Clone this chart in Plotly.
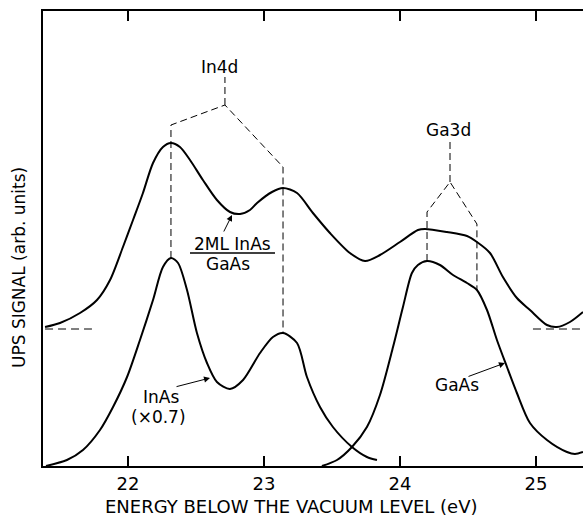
import plotly.graph_objects as go

# ---- data (energy in eV, signal in arbitrary units) ----
ml_x = [21.390, 21.500, 21.647, 21.772, 21.868, 21.963, 22.037, 22.110, 22.184, 22.257,
        22.316, 22.382, 22.456, 22.551, 22.654, 22.750, 22.824, 22.897, 22.949, 23.059,
        23.140, 23.243, 23.360, 23.485, 23.632, 23.743, 23.853, 24.000, 24.132, 24.184,
        24.346, 24.493, 24.566, 24.662, 24.757, 24.860, 24.956, 25.081, 25.154, 25.250, 25.346]
ml_y = [139, 143, 153, 166, 186, 219, 246, 273, 303, 319,
        323, 319, 306, 286, 266, 254, 252, 256, 263, 274,
        278, 273, 253, 233, 213, 205, 211, 224, 236, 237,
        234, 230, 224, 213, 189, 168, 156, 141, 139, 144, 154]

inas_x = [21.397, 21.551, 21.669, 21.794, 21.890, 21.993, 22.088, 22.184, 22.257, 22.316,
          22.368, 22.434, 22.507, 22.581, 22.654, 22.750, 22.846, 22.971, 23.066, 23.140,
          23.243, 23.316, 23.412, 23.507, 23.647, 23.757, 23.831]
inas_y = [0, 6, 16, 36, 59, 89, 126, 166, 199, 208,
          203, 176, 133, 103, 84, 77, 86, 113, 129, 133,
          123, 89, 59, 39, 19, 9, 6]

gaas_x = [23.426, 23.537, 23.647, 23.757, 23.853, 23.949, 24.022, 24.088, 24.132, 24.199,
          24.294, 24.390, 24.493, 24.566, 24.640, 24.713, 24.787, 24.860, 24.956, 25.081,
          25.228, 25.287, 25.346]
gaas_y = [0, 6, 19, 39, 71, 119, 159, 193, 201, 205,
          201, 191, 183, 176, 156, 126, 99, 73, 43, 26,
          14, 12, 14]

# baseline of the upper curve
base_level = 137
base_left_x = [21.39, 21.735]
base_right_x = [24.978, 25.346]

# peak-assignment guides (In 4d doublet, Ga 3d doublet)
in4d_x = [22.316, 22.316, 22.713, 23.140, 23.140, None, 22.713, 22.713]
in4d_y = [208, 341, 361, 299, 133, None, 361, 389]
ga3d_x = [24.199, 24.199, 24.368, 24.566, 24.566, None, 24.368, 24.368]
ga3d_y = [205, 254, 284, 242, 176, None, 284, 326]

x_ticks = [22, 23, 24, 25]
x_tick_text = ["22", "23", "24", "25"]

FONT = "DejaVu Sans"
fig = go.Figure()

solid = dict(color="black", width=2, shape="spline", smoothing=0.8)
guide = dict(color="black", width=1, dash="7px,4px")

fig.add_trace(go.Scatter(x=ml_x, y=ml_y, mode="lines", line=solid, name="2ML InAs/GaAs"))
fig.add_trace(go.Scatter(x=inas_x, y=inas_y, mode="lines", line=solid, name="InAs (x0.7)"))
fig.add_trace(go.Scatter(x=gaas_x, y=gaas_y, mode="lines", line=solid, name="GaAs"))
fig.add_trace(go.Scatter(x=base_left_x, y=[base_level] * 2, mode="lines",
                         line=dict(color="black", width=1, dash="8px,5px")))
fig.add_trace(go.Scatter(x=base_right_x, y=[base_level] * 2, mode="lines",
                         line=dict(color="black", width=1, dash="8px,5px")))
fig.add_trace(go.Scatter(x=in4d_x, y=in4d_y, mode="lines", line=guide, connectgaps=False))
fig.add_trace(go.Scatter(x=ga3d_x, y=ga3d_y, mode="lines", line=guide, connectgaps=False))

ann = []
def text(x, y, s, size=17):
    ann.append(dict(x=x, y=y, xref="x", yref="y", text=s, showarrow=False,
                    font=dict(family=FONT, size=size, color="black"),
                    xanchor="center", yanchor="middle"))
def arrow(hx, hy, tx, ty):
    ann.append(dict(x=hx, y=hy, ax=tx, ay=ty, xref="x", yref="y", axref="x", ayref="y",
                    text="", showarrow=True, arrowhead=2, arrowsize=1.2, arrowwidth=1,
                    arrowcolor="black", standoff=0, startstandoff=0))

text(22.676, 399, "In4d")
text(24.360, 336, "Ga3d")
text(22.772, 222, "2ML InAs")
text(22.735, 202, "GaAs")
text(22.243, 69, "InAs")
text(22.221, 49, "(×0.7)")
text(24.419, 81, "GaAs")
arrow(22.765, 251, 22.699, 233)
arrow(22.603, 88, 22.346, 79)
arrow(24.772, 103, 24.493, 89)

# axis titles
ann.append(dict(x=(291 - 43) / 540, y=(466 - 507) / 455, xref="paper", yref="paper",
                text="ENERGY BELOW THE VACUUM LEVEL (eV)", showarrow=False,
                font=dict(family=FONT, size=18, color="black"),
                xanchor="center", yanchor="middle"))
ann.append(dict(x=(19 - 43) / 540, y=(466 - 268) / 455, xref="paper", yref="paper",
                text="UPS SIGNAL (arb. units)", showarrow=False, textangle=-90,
                font=dict(family=FONT, size=17, color="black"),
                xanchor="center", yanchor="middle"))

fig.update_layout(
    width=583, height=516,
    margin=dict(l=43, r=0, t=11, b=50),
    paper_bgcolor="white", plot_bgcolor="white",
    showlegend=False,
    annotations=ann,
    shapes=[dict(type="line", xref="x", yref="y", x0=22.456, x1=23.081, y0=213, y1=213,
                 line=dict(color="black", width=1.5))],
    xaxis=dict(range=[21.375, 25.346], tickvals=x_ticks, ticktext=x_tick_text,
               ticks="inside", ticklen=10, tickwidth=2, tickcolor="black",
               showline=True, linewidth=2, linecolor="black", mirror="ticks",
               showgrid=False, zeroline=False, ticklabelstandoff=0,
               tickfont=dict(family=FONT, size=18, color="black")),
    yaxis=dict(range=[0, 455], showticklabels=False, ticks="",
               showline=True, linewidth=2, linecolor="black",
               showgrid=False, zeroline=False),
)

fig.write_html("out.html")
